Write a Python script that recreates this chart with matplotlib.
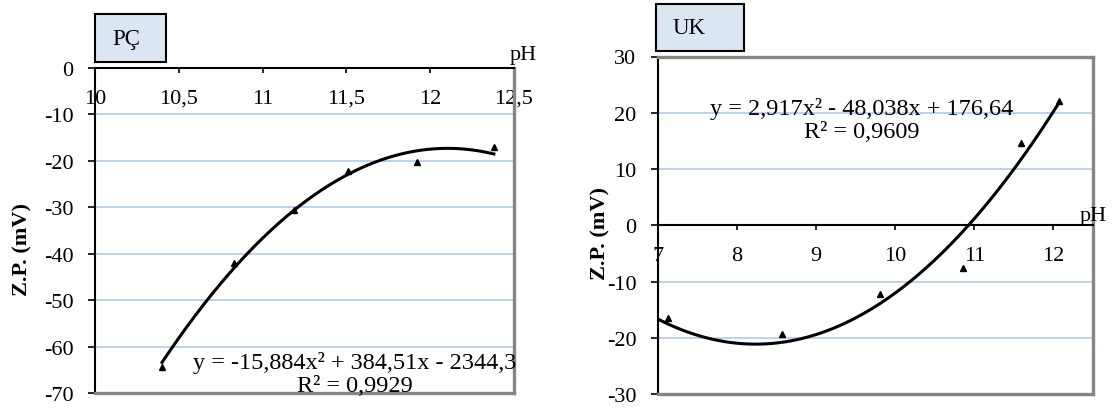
import numpy as np
import matplotlib.pyplot as plt
from matplotlib.patches import Rectangle

plt.rcParams['font.family'] = ['Liberation Serif', 'DejaVu Serif']
plt.rcParams['font.size'] = 16
plt.rcParams['axes.unicode_minus'] = False

# PÇ data (pH vs zeta potential)
pc_ph = [10.40, 10.83, 11.19, 11.51, 11.92, 12.38]
pc_zp = [-64.5, -42.0, -30.6, -22.1, -20.2, -17.0]
pc_coef = [-15.884, 384.51, -2344.3]
pc_eq = "y = -15,884x² + 384,51x - 2344,3\nR² = 0,9929"

# UK data
uk_ph = [7.13, 8.57, 9.81, 10.86, 11.59, 12.07]
uk_zp = [-16.5, -19.3, -12.2, -7.6, 14.6, 22.1]
uk_coef = [2.917, -48.038, 176.64]
uk_eq = "y = 2,917x² - 48,038x + 176,64\nR² = 0,9609"

pc_xticks = [10, 10.5, 11, 11.5, 12, 12.5]
pc_xlabels = ["10", "10,5", "11", "11,5", "12", "12,5"]
uk_xticks = [7, 8, 9, 10, 11, 12]
uk_xlabels = ["7", "8", "9", "10", "11", "12"]

W, H = 1115, 410
fig = plt.figure(figsize=(W / 100, H / 100), dpi=100)

def box(x0, y0, x1, y1):
    # pixel box (top-left origin) -> figure fraction rect
    return [x0 / W, 1 - y1 / H, (x1 - x0) / W, (y1 - y0) / H]

GRAY = '#858585'
GRID = '#b4cbea'

def style(ax, xlim, ylim, xticks, xlabels, yticks, top_gray):
    ax.set_xlim(*xlim)
    ax.set_ylim(*ylim)
    ax.spines['bottom'].set_position(('data', 0))
    ax.spines['bottom'].set_linewidth(1.5)
    ax.spines['bottom'].set_zorder(4)
    ax.spines['left'].set_linewidth(1.5)
    ax.spines['left'].set_color('black')
    ax.spines['right'].set_color(GRAY)
    ax.spines['right'].set_linewidth(2.4)
    if top_gray:
        ax.spines['top'].set_color(GRAY)
        ax.spines['top'].set_linewidth(2.4)
    else:
        ax.spines['top'].set_visible(False)
    ax.axhline(ylim[0], color=GRAY, lw=2.4, clip_on=False, zorder=3)
    ax.set_xticks(xticks)
    ax.set_xticklabels(xlabels)
    ax.set_yticks(yticks)
    ax.tick_params(axis='x', direction='out', length=3.5, width=1.2, pad=11.5)
    ax.tick_params(axis='y', direction='out', length=5, width=1.2, pad=10.5)
    ax.yaxis.grid(True, color=GRID, lw=1.2)
    ax.set_axisbelow(True)
    ax.patch.set_alpha(0)

def title_box(x0, y0, x1, y1, text):
    fig.patches.append(Rectangle((x0 / W, 1 - y1 / H), (x1 - x0) / W, (y1 - y0) / H,
                                 transform=fig.transFigure, facecolor='#dce6f2',
                                 edgecolor='black', lw=1.5))
    fig.text((x0 + 17) / W, 1 - (y0 + y1) / 2 / H, text, ha='left', va='center',
             fontsize=16.5)

# left chart: PÇ
ax1 = fig.add_axes(box(95, 69, 514, 394))
style(ax1, (10, 12.5), (-70, 0), pc_xticks, pc_xlabels, range(-70, 1, 10), False)
xs = np.linspace(min(pc_ph), max(pc_ph), 200)
ax1.plot(xs, np.polyval(pc_coef, xs), color='black', lw=2.2, zorder=3)
ax1.plot(pc_ph, pc_zp, '^', color='black', ms=5, zorder=3)
ax1.text(11.55, -65.8, pc_eq, ha='center', va='center', ma='center',
         linespacing=1.15, fontsize=17.5)
ax1.text(12.476, 0.8, "pH", ha='left', va='bottom', clip_on=False)
fig.text(22 / W, 1 - 250 / H, "Z.P. (mV)", rotation=90, ha='center', va='center',
         fontweight='bold')
title_box(95, 15, 166, 63, "PÇ")

# right chart: UK
ax2 = fig.add_axes(box(658, 57.5, 1093, 395))
style(ax2, (7, 12.5), (-30, 30), uk_xticks, uk_xlabels, range(-30, 31, 10), True)
xs = np.linspace(7, max(uk_ph), 200)
ax2.plot(xs, np.polyval(uk_coef, xs), color='black', lw=2.2, zorder=3)
ax2.plot(uk_ph, uk_zp, '^', color='black', ms=5, zorder=3)
ax2.text(9.576, 18.8, uk_eq, ha='center', va='center', ma='center',
         linespacing=1.15, fontsize=17.5)
ax2.text(12.33, 0.0, "pH", ha='left', va='bottom', clip_on=False)
fig.text(600 / W, 1 - 234 / H, "Z.P. (mV)", rotation=90, ha='center', va='center',
         fontweight='bold')
title_box(656, 5, 744, 52, "UK")

fig.savefig('out.png', dpi=100)
